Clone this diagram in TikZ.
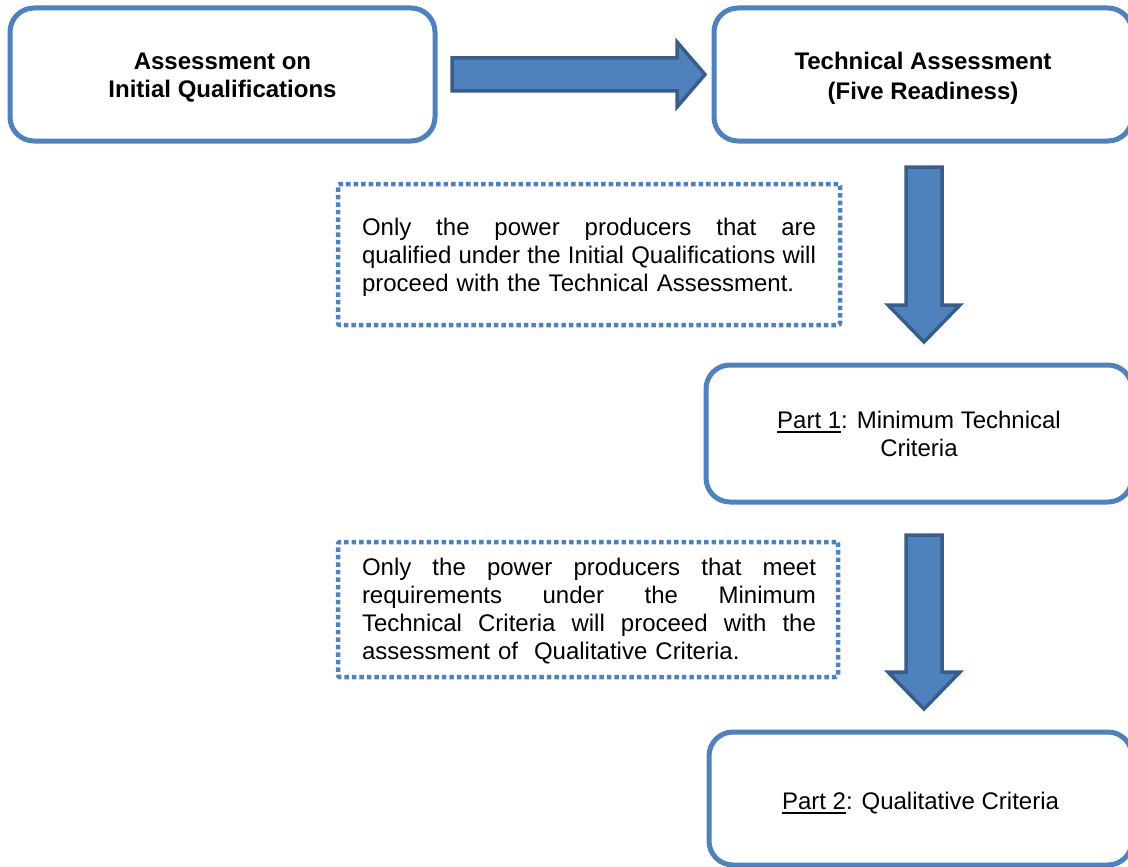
\documentclass[tikz,border=0pt]{standalone}
\usepackage{fontspec}
\setmainfont{Liberation Sans}
\definecolor{boxblue}{HTML}{4F81BD}
\definecolor{arrowedge}{HTML}{385D8A}
\newcommand{\ulx}[1]{\leavevmode\vtop{\hbox{#1}\kern2.2pt\hrule height 1.8pt}}
\newcommand{\jline}[1]{\leavevmode\hbox to 454pt{#1}}
\tikzset{
  stage/.style={draw=boxblue, line width=5pt, rounded corners=24pt, fill=white, inner sep=0pt},
  stagetext/.style={align=center, font=\fontsize{24}{28}\selectfont, inner sep=0pt},
  note/.style={draw=boxblue, line width=4.5pt, dash pattern=on 4.5pt off 3pt,
    rounded corners=2pt, inner sep=0pt},
  notetext/.style={text width=454pt, align=left, font=\fontsize{24}{27.8}\selectfont, inner sep=0pt},
  blockarrow/.style={fill=boxblue, draw=arrowedge, line width=3.5pt, line join=miter}
}
\begin{document}
\begin{tikzpicture}[x=1pt,y=-1pt]
\useasboundingbox (0,0) rectangle (1128,867);
% stage boxes
\node[stage, minimum width=425pt, minimum height=133pt] (b1) at (222.5,74.5) {};
\node[stagetext] (b1t) at (222.5,78) {\textbf{Assessment on}\\\textbf{Initial Qualifications}};
\node[stage, minimum width=418pt, minimum height=133pt] (b2) at (923,74.5) {};
\node[stagetext, font=\fontsize{24}{30}\selectfont] (b2t) at (923,78) {\textbf{Technical Assessment}\\\textbf{(Five Readiness)}};
\node[stage, minimum width=426pt, minimum height=137pt] (b3) at (919,433.5) {};
\node[stagetext] (b3t) at (919,434) {\ulx{Part 1}: Minimum Technical\\Criteria};
\node[stage, minimum width=423pt, minimum height=133pt] (b4) at (920.5,798.5) {};
\node[stagetext] (b4t) at (920.5,803) {\ulx{Part 2}: Qualitative Criteria};
% dotted notes
\node[note, minimum width=502pt, minimum height=141pt] (n1) at (589,254.5) {};
\node[notetext] (t1) at (589,257.5) {%
  \jline{Only\hfill the\hfill power\hfill producers\hfill that\hfill are}\\
  \jline{qualified\hfill under\hfill the\hfill Initial\hfill Qualifications\hfill will}\\
  proceed with the Technical Assessment.};
\node[note, minimum width=500pt, minimum height=135pt] (n2) at (588,609.5) {};
\node[notetext] (t2) at (589,611) {%
  \jline{Only\hfill the\hfill power\hfill producers\hfill that\hfill meet}\\
  \jline{requirements\hfill under\hfill the\hfill Minimum}\\
  \jline{Technical\hfill Criteria\hfill will\hfill proceed\hfill with\hfill the}\\
  assessment of \ Qualitative Criteria.};
% block arrows
\draw[blockarrow] (452,58) -- (677,58) -- (677,42) -- (705,74.5) -- (677,107) -- (677,91) -- (452,91) -- cycle;
\draw[blockarrow] (906,167) -- (942,167) -- (942,305) -- (960,305) -- (924,342) -- (888,305) -- (906,305) -- cycle;
\draw[blockarrow] (906,535) -- (942,535) -- (942,672) -- (960,672) -- (924,709) -- (888,672) -- (906,672) -- cycle;
\end{tikzpicture}
\end{document}
